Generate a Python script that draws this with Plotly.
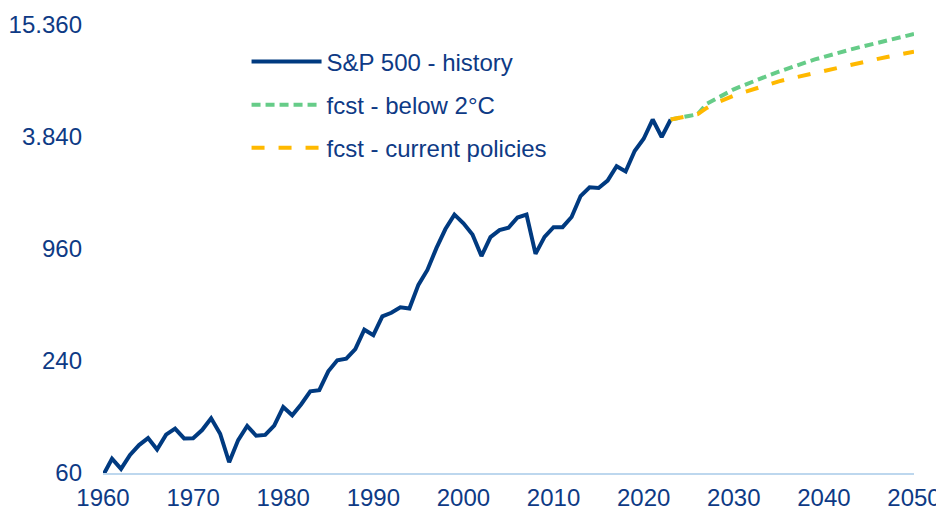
import plotly.graph_objects as go

# ---- data ----
hist_years = list(range(1960, 2024))
hist_values = [58.11, 71.55, 63.10, 75.02, 84.75, 92.43, 80.33, 96.47, 103.86, 92.06,
               92.15, 102.09, 118.05, 97.55, 68.56, 90.19, 107.46, 95.10, 96.11, 107.94,
               135.76, 122.55, 140.64, 164.93, 167.24, 211.28, 242.17, 247.08, 277.72, 353.40,
               330.22, 417.09, 435.71, 466.45, 459.27, 615.93, 740.74, 970.43, 1229.23, 1469.25,
               1320.28, 1148.08, 879.82, 1111.92, 1211.92, 1248.29, 1418.30, 1468.36, 903.25, 1115.10,
               1257.64, 1257.60, 1426.19, 1848.36, 2058.90, 2043.94, 2238.83, 2673.61, 2506.85, 3230.78,
               3756.07, 4766.18, 3839.50, 4769.83]

fcst_years = list(range(2023, 2051))
fcst_below2 = [4769.83, 4900, 4980, 5090, 5800, 6150, 6550, 6930, 7250, 7600,
               7950, 8280, 8616, 8980, 9330, 9680, 10030, 10375, 10700, 11030,
               11350, 11680, 11993, 12330, 12680, 13030, 13380, 13740]
fcst_current = [4769.83, 4900, 4980, 5090, 5500, 5850, 6150, 6403, 6650, 6900,
                7150, 7400, 7650, 7860, 8070, 8280, 8490, 8693, 8920, 9150,
                9390, 9630, 9872, 10100, 10330, 10560, 10800, 11040]

y_tickvals = [60, 240, 960, 3840, 15360]
y_ticktext = ["60", "240", "960", "3.840", "15.360"]
x_tickvals = [1960, 1970, 1980, 1990, 2000, 2010, 2020, 2030, 2040, 2050]

NAVY = "#003A80"
TEXT = "#0E3A85"
GREEN = "#66CC88"
ORANGE = "#FFB900"
FS = 24

fig = go.Figure()
fig.add_trace(go.Scatter(x=hist_years, y=hist_values, mode="lines",
                         name="S&P 500 - history", legendgroup="a",
                         line=dict(color=NAVY, width=4)))
fig.add_trace(go.Scatter(x=fcst_years, y=fcst_below2, mode="lines",
                         name="fcst - below 2°C", legendgroup="b",
                         line=dict(color=GREEN, width=4, dash="9px,5px")))
fig.add_trace(go.Scatter(x=fcst_years, y=fcst_current, mode="lines",
                         name="fcst - current policies", legendgroup="c",
                         line=dict(color=ORANGE, width=4, dash="13px,14px")))

# page body has an 8px default margin, so the figure is drawn at (8, 8)
fig.update_layout(
    width=936, height=503,
    margin=dict(l=95, r=30, t=17, b=38, autoexpand=False),
    paper_bgcolor="white", plot_bgcolor="white",
    font=dict(family="Liberation Sans, Arial, sans-serif", size=FS, color=TEXT),
    showlegend=True,
    legend=dict(x=0.177, y=0.968, xanchor="left", yanchor="top",
                bgcolor="rgba(0,0,0,0)", itemwidth=70,
                tracegroupgap=9, traceorder="grouped",
                font=dict(size=FS, color=TEXT)),
    xaxis=dict(range=[1960, 2050], tickvals=x_tickvals, showgrid=False,
               zeroline=False, showline=True, linecolor="#BDD7EE", linewidth=2,
               ticks="", automargin=False, ticklabelstandoff=2,
               tickfont=dict(size=FS, color=TEXT)),
    yaxis=dict(type="log", range=[1.7781513, 4.1863912], tickvals=y_tickvals,
               ticktext=y_ticktext, showgrid=False, zeroline=False,
               showline=False, ticks="", ticklabelstandoff=20, automargin=False,
               tickfont=dict(size=FS, color=TEXT)),
)

fig.write_html("out.html")
